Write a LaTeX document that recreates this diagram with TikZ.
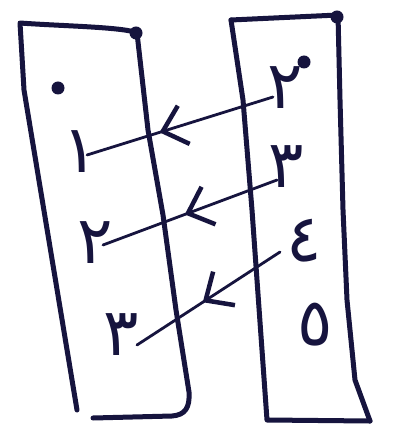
\documentclass[tikz,border=0pt]{standalone}
\usepackage{fontspec}
\newfontfamily\arabicfont[Script=Arabic]{DejaVu Sans}
\TeXXeTstate=1
\usetikzlibrary{arrows.meta,decorations.markings}
\definecolor{ink}{RGB}{22,20,62}
\tikzset{
  pen/.style={line width=5pt, draw=ink, line cap=round, line join=round},
  link/.style={line width=2.8pt, draw=ink, line cap=round,
    decoration={markings, mark=at position #1 with {\arrow{Straight Barb[length=22pt,width=40pt,line width=4.5pt]}}},
    postaction={decorate}},
  digit/.style={text=ink, font=\arabicfont\fontsize{66}{70}\selectfont, inner sep=0pt},
  blob/.style={circle, fill=ink, inner sep=0pt, minimum size=13pt}
}
\begin{document}
\begin{tikzpicture}[x=1pt,y=-1pt]
\useasboundingbox[fill=white] (0,0) rectangle (397,427);
% left set
\draw[pen] (137,33) .. controls (125,27) and (60,26) .. (20,23) -- (24,90) -- (77,410);
\draw[pen] (137,33) -- (148,130) -- (163,215) -- (176,310) -- (189,392) .. controls (190,408) and (185,415) .. (172,416) -- (93,418);
% right set
\draw[pen] (231,20) -- (338,15);
\draw[pen] (231,20) -- (243,100) -- (252,210) -- (267,420) -- (370,421);
\draw[pen] (338,15) -- (340,100) -- (343,210) -- (347,300) -- (355,380) -- (370,421);
% dots
\node[blob] (dA) at (136,33) {};
\node[blob] (dB) at (58,88) {};
\node[blob] (dC) at (337,17) {};
\node[blob] (dD) at (304,62) {};
% elements
\node[digit] (l1) at (80,152) {\beginR ١\endR};
\node[digit] (l2) at (95,243) {\beginR ٢\endR};
\node[digit] (l3) at (121,335) {\beginR ٣\endR};
\node[digit] (r2) at (285,88) {\beginR ٢\endR};
\node[digit] (r3) at (286,167) {\beginR ٣\endR};
\node[digit] (r4) at (304,241) {\beginR ٤\endR};
\node[digit] (r5) at (315,325) {\beginR ٥\endR};
% mappings
\draw[link=0.61] ([shift={(-12,9)}]r2.center) -- ([shift={(7,3)}]l1.center);
\draw[link=0.53] ([shift={(-9,13)}]r3.center) -- ([shift={(8,2)}]l2.center);
\draw[link=0.54] ([shift={(-24,11)}]r4.center) -- ([shift={(16,10)}]l3.center);
\end{tikzpicture}
\end{document}
